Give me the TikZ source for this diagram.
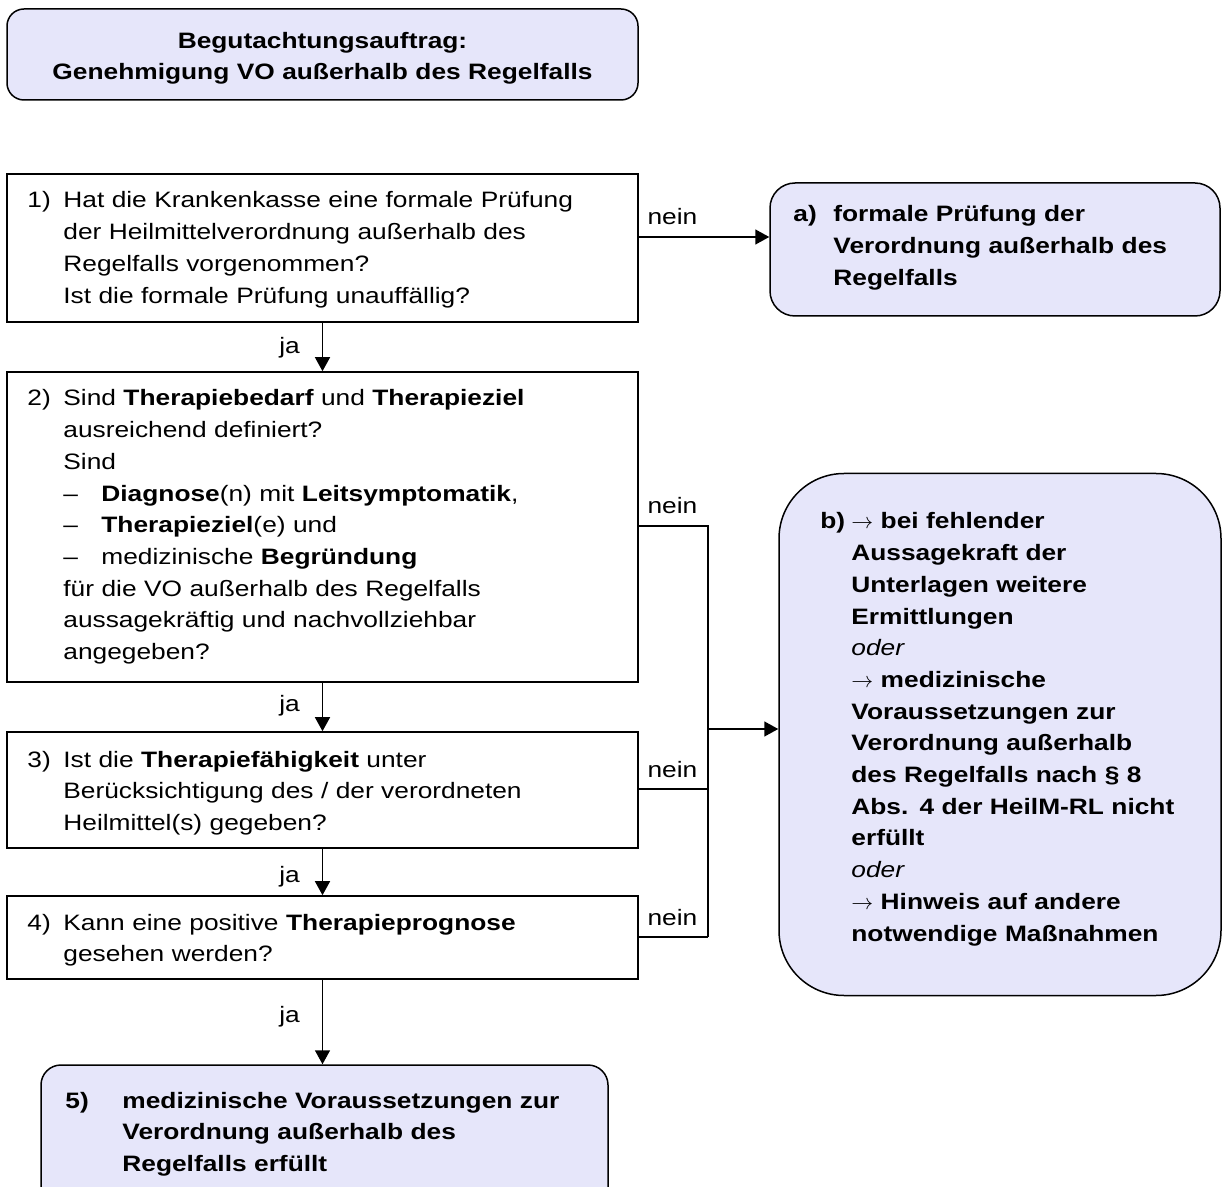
\documentclass[tikz,border=0pt]{standalone}
\usepackage{fontspec}
\setmainfont[FakeStretch=1.18]{Liberation Sans}
\usetikzlibrary{arrows.meta}
\definecolor{gutfill}{HTML}{E6E6FA}
\tikzset{
  gutbox/.style={
    draw=black, fill=gutfill, line width=0.75pt, inner sep=0pt},
  frage/.style={draw=black, line width=0.8pt, inner sep=0pt},
  gutarrow/.style={-{Triangle[length=7pt, width=7.5pt]}, line width=0.75pt},
  gutline/.style={line width=0.75pt},
  nr/.style={anchor=base west, inner sep=0pt},
  body/.style={anchor=base west, inner sep=0pt, text width=#1, align=left},
  titel/.style={anchor=base, inner sep=0pt, text width=310pt, align=center,
    font=\fontsize{11.15}{15.85}\selectfont\bfseries},
  ja/.style={anchor=base east, inner sep=0pt, xshift=-11pt},
  nein/.style={anchor=base west, inner sep=0pt, xshift=4pt, yshift=6pt},
}
\newcommand{\spiegel}{\makebox[19pt][l]{--}}

\begin{document}
\begin{tikzpicture}[x=0.5pt, y=0.5pt, font=\fontsize{11.15}{15.85}\selectfont]
\useasboundingbox (0,0) rectangle (1222,-1187);

% Auftrag oben.
\node[gutbox, rounded corners=8.5pt, minimum width=315.5pt,
      minimum height=45.5pt] (auftrag) at (322.5,-54.5) {};
\node[titel] (auftragtext) at (322.5,-48.3)
  {Begutachtungsauftrag:\\Genehmigung VO außerhalb des Regelfalls};

% Die vier Prüffragen.
\node[frage, minimum width=315.5pt, minimum height=74pt] (q1)
  at (322.5,-248) {};
\node[nr] (q1nr) at (27,-208) {1)};
\node[body=280pt] (q1text) at (63,-208)
  {Hat die Krankenkasse eine formale Prüfung\\
   der Heilmittelverordnung außerhalb des\\
   Regelfalls vorgenommen?\\
   Ist die formale Prüfung unauffällig?};

\node[frage, minimum width=315.5pt, minimum height=155pt] (q2)
  at (322.5,-527) {};
\node[nr] (q2nr) at (27,-406) {2)};
\node[body=280pt] (q2text) at (63,-406)
  {Sind \textbf{Therapiebedarf} und \textbf{Therapieziel}\\
   ausreichend definiert?\\
   Sind\\
   \spiegel\textbf{Diagnose}(n) mit \textbf{Leitsymptomatik},\\
   \spiegel\textbf{Therapieziel}(e) und\\
   \spiegel medizinische \textbf{Begründung}\\
   für die VO außerhalb des Regelfalls\\
   aussagekräftig und nachvollziehbar\\
   angegeben?};

\node[frage, minimum width=315.5pt, minimum height=58pt] (q3)
  at (322.5,-790) {};
\node[nr] (q3nr) at (27,-767) {3)};
\node[body=280pt] (q3text) at (63,-767)
  {Ist die \textbf{Therapiefähigkeit} unter\\
   Berücksichtigung des / der verordneten\\
   Heilmittel(s) gegeben?};

\node[frage, minimum width=315.5pt, minimum height=41.5pt] (q4)
  at (322.5,-937.5) {};
\node[nr] (q4nr) at (27,-930) {4)};
\node[body=280pt] (q4text) at (63,-930)
  {Kann eine positive \textbf{Therapieprognose}\\
   gesehen werden?};

% Ergebnisse.
\node[gutbox, rounded corners=12.5pt, minimum width=225pt,
      minimum height=66.5pt] (abox) at (995,-249.5) {};
\node[nr, font=\fontsize{11.15}{15.85}\selectfont\bfseries] (anr)
  at (793,-222) {a)};
\node[body=200pt, font=\fontsize{11.15}{15.85}\selectfont\bfseries] (atext)
  at (833,-222)
  {formale Prüfung der\\Verordnung außerhalb des\\Regelfalls};

\node[gutbox, rounded corners=32.5pt, minimum width=221pt,
      minimum height=261pt] (bbox) at (1000,-734.5) {};
\node[nr, font=\fontsize{11.15}{15.85}\selectfont\bfseries] (bnr)
  at (820,-529) {b)};
\node[body=200pt, font=\fontsize{11.15}{15.85}\selectfont\bfseries] (btext)
  at (851,-529)
  {$\rightarrow$ bei fehlender\\
   Aussagekraft der\\
   Unterlagen weitere\\
   Ermittlungen\\
   {\mdseries\itshape oder}\\
   $\rightarrow$ medizinische\\
   Voraussetzungen zur\\
   Verordnung außerhalb\\
   des Regelfalls nach § 8\\
   Abs. 4 der HeilM-RL nicht\\
   erfüllt\\
   {\mdseries\itshape oder}\\
   $\rightarrow$ Hinweis auf andere\\
   notwendige Maßnahmen};

\node[gutbox, rounded corners=10pt, minimum width=283.5pt,
      minimum height=82.5pt] (fbox) at (324.5,-1147.5) {};
\node[nr, font=\fontsize{11.15}{15.85}\selectfont\bfseries] (fnr)
  at (65,-1108) {5)};
\node[body=250pt, font=\fontsize{11.15}{15.85}\selectfont\bfseries] (ftext)
  at (122,-1108)
  {medizinische Voraussetzungen zur\\
   Verordnung außerhalb des\\
   Regelfalls erfüllt};

% ja-Pfeile nach unten.
\draw[gutarrow] (q1.south) -- (q2.north) node[ja, pos=0.64] {ja};
\draw[gutarrow] (q2.south) -- (q3.north) node[ja, pos=0.6] {ja};
\draw[gutarrow] (q3.south) -- (q4.north) node[ja, pos=0.73] {ja};
\draw[gutarrow] (q4.south) -- (fbox.north -| q4.south)
  node[ja, pos=0.51] {ja};

% nein-Zweige.
\coordinate (nein1) at (0,-237);
\coordinate (bus2) at (708,-526);
\coordinate (bus3) at (708,-789);
\coordinate (bus4) at (708,-937);
\coordinate (busb) at (708,-729);
\draw[gutarrow] (q1.east |- nein1) -- node[nein, pos=0] {nein}
  (abox.west |- nein1);
\draw[gutline] (q2.east |- bus2) -- node[nein, pos=0] {nein} (bus2)
  -- (bus4);
\draw[gutline] (q3.east |- bus3) -- node[nein, pos=0] {nein} (bus3);
\draw[gutline] (q4.east |- bus4) -- node[nein, pos=0] {nein} (bus4);
\draw[gutarrow] (busb) -- (bbox.west |- busb);

\end{tikzpicture}
\end{document}
